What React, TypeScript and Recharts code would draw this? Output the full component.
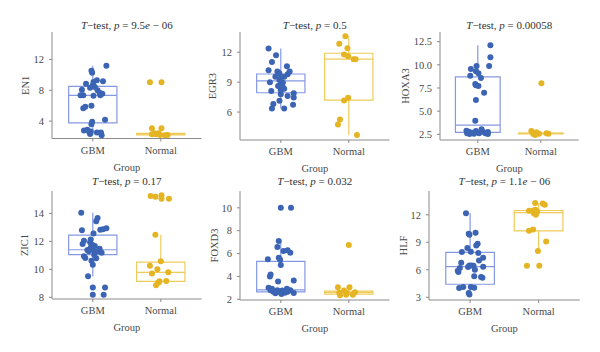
import {
	ComposedChart,
	Scatter,
	XAxis,
	YAxis,
	ReferenceArea,
	ReferenceLine,
} from "recharts";

const GROUPS = ["GBM", "Normal"];
const GENES = ["EN1", "EGR3", "HOXA3", "ZIC1", "FOXD3", "HLF"];
const P_VALUES = ["9.5e−06", "0.5", "0.00058", "0.17", "0.032", "1.1e−06"];

const Y_TICKS = [
	[4, 8, 12],
	[6, 9, 12],
	[2.5, 5, 7.5, 10, 12.5],
	[8, 10, 12, 14],
	[2, 4, 6, 8, 10],
	[3, 6, 9, 12],
];
const Y_DOMAINS = [
	[1.74, 15.56],
	[3.2, 14.03],
	[1.89, 13.54],
	[7.88, 15.6],
	[1.94, 11.47],
	[2.7, 14.6],
];

// box stats per group: [lower whisker, q1, median, q3, upper whisker]
const EN1_BOX = [
	[2.17, 3.78, 7.34, 8.5, 11.17],
	[2.17, 2.2, 2.3, 2.4, 2.43],
];
const EGR3_BOX = [
	[6.37, 7.94, 9.12, 9.82, 12.37],
	[3.69, 7.2, 11.3, 11.9, 13.6],
];
const HOXA3_BOX = [
	[2.54, 2.72, 3.5, 8.7, 12.1],
	[2.54, 2.56, 2.6, 2.64, 2.66],
];
const ZIC1_BOX = [
	[9.5, 11.05, 11.4, 12.45, 14.05],
	[8.86, 9.14, 9.79, 10.52, 12.48],
];
const FOXD3_BOX = [
	[2.46, 2.65, 2.83, 5.32, 7.1],
	[2.4, 2.46, 2.6, 2.72, 2.76],
];
const HLF_BOX = [
	[3.29, 4.42, 6.34, 7.9, 12.18],
	[8.04, 10.24, 12.25, 12.47, 13.3],
];

// jittered points: [horizontal jitter, value]
const EN1_GBM = [
	[0.2, 11.17], [-0.02, 10.52], [-0.01, 10.26], [-0.1, 8.86], [0.01, 9.08], [0.06, 9.3],
	[0.15, 9.17], [-0.16, 8.08], [-0.04, 8.34], [0, 8.65], [0.03, 8.43], [0.07, 8.0],
	[0.1, 7.69], [0.14, 7.56], [-0.18, 7.34], [-0.14, 7.34], [0.01, 7.3], [0.11, 7.34],
	[-0.14, 5.65], [-0.11, 5.86], [-0.02, 6.0], [-0.01, 3.9], [-0.02, 3.6], [0.18, 4.17],
	[-0.13, 2.78], [-0.05, 2.52], [-0.03, 2.65], [0.06, 2.52], [0.12, 2.52], [0.13, 2.17],
	[-0.04, 2.34], [-0.08, 2.86],
];
const EN1_NORMAL = [
	[-0.16, 9.04], [0.01, 9.04], [-0.13, 3.08], [0.01, 3.08], [-0.13, 2.3], [-0.07, 2.3],
	[-0.03, 2.43], [-0.01, 2.2], [0.06, 2.17], [0.1, 2.2], [-0.09, 2.43],
];
const EGR3_GBM = [
	[-0.18, 12.37], [-0.07, 11.7], [-0.13, 11.03], [-0.18, 10.19], [0.09, 10.59], [-0.05, 10.06],
	[-0.02, 9.89], [0.13, 10.06], [0.1, 9.79], [0.05, 9.55], [0, 9.39], [-0.02, 9.22],
	[-0.16, 8.98], [0.03, 8.95], [0, 8.78], [-0.04, 8.61], [0.03, 8.48], [0.05, 8.35],
	[-0.14, 8.11], [0, 7.78], [0.1, 7.61], [0.19, 7.88], [0.19, 7.47], [-0.11, 6.8],
	[-0.02, 7.14], [0.18, 6.74], [-0.13, 6.37], [0.05, 6.37], [0, 8.2], [-0.08, 9.55],
];
const EGR3_NORMAL = [
	[-0.05, 13.6], [-0.14, 12.84], [-0.02, 12.4], [-0.07, 11.77], [-0.01, 11.6], [0.07, 11.3],
	[0.1, 11.3], [-0.07, 7.17], [-0.01, 7.44], [-0.13, 5.26], [-0.16, 4.76], [0.12, 3.69],
];
const HOXA3_GBM = [
	[0.2, 12.1], [0.2, 10.81], [0.18, 9.87], [-0.11, 9.55], [-0.02, 9.87], [-0.03, 9.3],
	[0.01, 9.08], [0.05, 8.58], [-0.12, 8.83], [-0.04, 7.93], [0.01, 7.72], [-0.03, 7.79],
	[0.1, 7.0], [-0.03, 6.2], [-0.04, 3.97], [-0.18, 2.9], [-0.14, 2.79], [-0.17, 2.61],
	[-0.09, 2.68], [-0.03, 2.86], [0.06, 3.04], [0.08, 2.79], [0.12, 2.61], [0.16, 2.54],
	[0.02, 2.61], [-0.06, 2.57], [0.16, 2.75], [-0.13, 2.54],
];
const HOXA3_NORMAL = [
	[0.01, 8.0], [-0.15, 2.86], [-0.12, 2.54], [-0.07, 2.72], [-0.03, 2.57], [0.09, 2.61],
	[0.12, 2.57], [-0.09, 2.43],
];
const ZIC1_GBM = [
	[-0.17, 14.05], [0.07, 13.67], [0.05, 13.43], [-0.16, 12.79], [0.11, 12.83], [0.15, 12.86],
	[0.2, 12.93], [0.01, 12.57], [-0.13, 12.05], [-0.03, 12.14], [-0.15, 11.81], [-0.08, 11.38],
	[-0.04, 11.93], [-0.01, 11.76], [0.03, 11.67], [-0.03, 11.57], [0, 11.38], [0.1, 11.48],
	[0.13, 11.19], [0.07, 11.29], [-0.13, 10.93], [-0.11, 10.81], [-0.02, 10.62], [0.05, 10.79],
	[0, 10.33], [-0.07, 9.5], [0, 8.71], [0.18, 8.71], [0, 8.19], [0.16, 8.19],
	[0.02, 11.05], [-0.06, 11.29],
];
const ZIC1_NORMAL = [
	[-0.15, 15.24], [-0.08, 15.19], [0.01, 15.29], [0.01, 15.05], [0.12, 15.05], [-0.08, 12.48],
	[-0.16, 10.26], [0, 10.57], [-0.05, 10.0], [-0.13, 9.71], [0.11, 9.79], [-0.02, 9.14],
	[-0.07, 8.86], [0.08, 9.17], [-0.04, 9.05],
];
const FOXD3_GBM = [
	[0, 10.0], [0.15, 10.0], [-0.03, 7.1], [-0.05, 6.57], [0.04, 6.22], [0.1, 6.3],
	[0.14, 6.07], [-0.19, 5.51], [-0.03, 5.63], [-0.01, 5.45], [0, 4.99], [-0.15, 4.16],
	[-0.16, 3.99], [-0.04, 3.55], [0.19, 3.64], [-0.18, 3.02], [-0.15, 2.79], [-0.11, 2.67],
	[-0.08, 2.52], [-0.05, 2.79], [-0.02, 2.64], [0.02, 2.76], [0.06, 2.58], [0.09, 2.93],
	[0.1, 2.67], [0.14, 2.79], [0.19, 2.55], [-0.13, 2.93], [0.01, 2.46],
];
const FOXD3_NORMAL = [
	[0, 6.74], [-0.16, 3.05], [0.01, 3.05], [-0.13, 2.35], [-0.07, 2.76], [-0.14, 2.58],
	[-0.03, 2.55], [0.06, 2.4], [0.09, 2.61], [-0.04, 2.4],
];
const HLF_GBM = [
	[-0.06, 12.18], [-0.02, 9.93], [-0.01, 9.82], [0.08, 10.04], [0.11, 8.84], [0.09, 8.66],
	[-0.04, 8.37], [-0.12, 7.94], [0.01, 7.97], [0.12, 7.83], [0.19, 7.32], [0.13, 7.0],
	[-0.13, 6.78], [0.05, 6.45], [-0.01, 6.48], [0.02, 6.48], [-0.03, 6.3], [-0.15, 6.19],
	[0.19, 6.34], [-0.17, 5.76], [-0.18, 5.9], [0.06, 5.29], [0.16, 5.21], [0.18, 5.14],
	[-0.16, 4.02], [-0.1, 4.13], [0.01, 4.13], [0.06, 4.05], [-0.02, 3.47], [-0.01, 3.29],
	[0.07, 6.0],
];
const HLF_NORMAL = [
	[-0.05, 13.3], [0.06, 13.23], [0.09, 13.09], [-0.14, 12.44], [-0.08, 12.44], [-0.05, 12.54],
	[-0.02, 12.36], [-0.07, 12.18], [-0.04, 12.0], [-0.14, 10.26], [-0.08, 10.4], [0.11, 9.1],
	[-0.01, 8.04], [-0.17, 6.45], [0.01, 6.45],
];

const BOXES = [EN1_BOX, EGR3_BOX, HOXA3_BOX, ZIC1_BOX, FOXD3_BOX, HLF_BOX];
const POINTS = [
	[EN1_GBM, EN1_NORMAL],
	[EGR3_GBM, EGR3_NORMAL],
	[HOXA3_GBM, HOXA3_NORMAL],
	[ZIC1_GBM, ZIC1_NORMAL],
	[FOXD3_GBM, FOXD3_NORMAL],
	[HLF_GBM, HLF_NORMAL],
];

// plot rectangles in page pixels
const LAYOUT = [
	{ axisX: 52, right: 201.6, top: 32, bottom: 138.5, labelGap: 27, titleY: 29 },
	{ axisX: 240, right: 389.6, top: 32, bottom: 140, labelGap: 28, titleY: 29 },
	{ axisX: 440, right: 578.6, top: 32, bottom: 140, labelGap: 35, titleY: 29 },
	{ axisX: 52, right: 201.6, top: 191, bottom: 299, labelGap: 28, titleY: 185 },
	{ axisX: 240, right: 389.6, top: 191, bottom: 300, labelGap: 26, titleY: 185 },
	{ axisX: 429, right: 579.7, top: 191, bottom: 300, labelGap: 26, titleY: 185 },
];

const POINT_COLORS = ["#3c64b4", "#e5b423"];
const BOX_COLORS = ["#8598e2", "#efcb5a"];
const AXIS_COLOR = "#8a8a8a";
const TEXT_COLOR = "#4a4a4a";
const FONT = "'Liberation Serif', 'DejaVu Serif', serif";
const BOX_HALF = 0.355;

const Panel = ({ i }: { i: number }) => {
	const L = LAYOUT[i];
	const yW = 40;
	const xH = 20;
	const margin = {
		left: L.axisX - yW,
		top: L.top,
		right: 600 - L.right,
		bottom: 352 - L.bottom - xH,
	};

	return (
		<div style={{ position: "absolute", left: 0, top: 0 }}>
			<ComposedChart width={600} height={352} margin={margin}>
				<XAxis
					type="number"
					dataKey="x"
					domain={[0.4, 2.6]}
					ticks={[1, 2]}
					tickFormatter={(v: number) => GROUPS[v - 1]}
					height={xH}
					allowDataOverflow
					stroke={AXIS_COLOR}
					tickSize={3}
					tickMargin={5}
					tick={{ fill: TEXT_COLOR, fontSize: 10.5, fontFamily: FONT }}
					label={{
						value: "Group",
						position: "bottom",
						offset: 5,
						fill: TEXT_COLOR,
						fontSize: 10.5,
						fontFamily: FONT,
					}}
				/>
				<YAxis
					type="number"
					dataKey="y"
					domain={Y_DOMAINS[i]}
					ticks={Y_TICKS[i]}
					tickFormatter={(v: number) => (i === 2 ? v.toFixed(1) : String(v))}
					width={yW}
					allowDataOverflow
					stroke={AXIS_COLOR}
					tickSize={3}
					tickMargin={5}
					tick={{ fill: TEXT_COLOR, fontSize: 10.5, fontFamily: FONT }}
					label={{
						value: GENES[i],
						angle: -90,
						position: "insideLeft",
						offset: yW - L.labelGap,
						fill: TEXT_COLOR,
						fontSize: 10.5,
						fontFamily: FONT,
						style: { textAnchor: "middle" },
					}}
				/>
				{BOXES[i].map((b, g) => {
					const c = g + 1;
					const col = BOX_COLORS[g];
					return [
						<ReferenceLine
							key={`wu${g}`}
							segment={[{ x: c, y: b[3] }, { x: c, y: b[4] }]}
							stroke={col}
							strokeWidth={1.2}
						/>,
						<ReferenceLine
							key={`wl${g}`}
							segment={[{ x: c, y: b[0] }, { x: c, y: b[1] }]}
							stroke={col}
							strokeWidth={1.2}
						/>,
						<ReferenceArea
							key={`bx${g}`}
							x1={c - BOX_HALF}
							x2={c + BOX_HALF}
							y1={b[1]}
							y2={b[3]}
							fill="#ffffff"
							fillOpacity={0}
							stroke={col}
							strokeWidth={1.2}
							strokeOpacity={1}
						/>,
						<ReferenceLine
							key={`md${g}`}
							segment={[{ x: c - BOX_HALF, y: b[2] }, { x: c + BOX_HALF, y: b[2] }]}
							stroke={col}
							strokeWidth={1.2}
						/>,
					];
				})}
				{POINTS[i].map((pts, g) => (
					<Scatter
						key={`s${g}`}
						data={pts.map((p) => ({ x: g + 1 + p[0], y: p[1] }))}
						dataKey="y"
						fill={POINT_COLORS[g]}
						isAnimationActive={false}
						shape={(p: any) => (
							<circle cx={p.cx} cy={p.cy} r={3} fill={POINT_COLORS[g]} />
						)}
					/>
				))}
			</ComposedChart>
		</div>
	);
};

const Title = ({ i }: { i: number }) => {
	const L = LAYOUT[i];
	const parts = P_VALUES[i].split("e");
	return (
		<text
			x={(L.axisX + L.right) / 2}
			y={L.titleY}
			textAnchor="middle"
			fontSize={11}
			fontFamily={FONT}
			fill="#333"
		>
			<tspan fontStyle="italic">T</tspan>
			<tspan>−test, </tspan>
			<tspan fontStyle="italic">p</tspan>
			<tspan> = {parts[0]}</tspan>
			{parts.length > 1 && (
				<>
					<tspan fontStyle="italic">e</tspan>
					<tspan> {parts[1].replace("−", "− ")}</tspan>
				</>
			)}
		</text>
	);
};

export default function App() {
	return (
		<div
			style={{
				position: "absolute",
				left: 0,
				top: 0,
				width: 600,
				height: 352,
				background: "#fff",
			}}
		>
			{GENES.map((_, i) => (
				<Panel key={i} i={i} />
			))}
			<svg
				width={600}
				height={352}
				style={{ position: "absolute", left: 0, top: 0, pointerEvents: "none" }}
			>
				{GENES.map((_, i) => (
					<Title key={i} i={i} />
				))}
			</svg>
		</div>
	);
}
